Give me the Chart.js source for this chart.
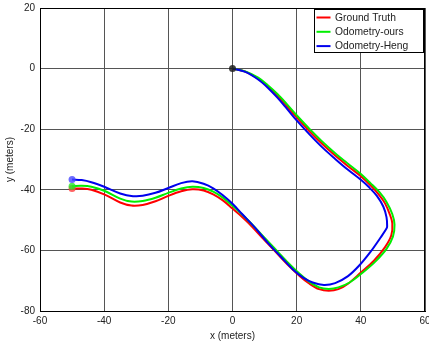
<!DOCTYPE html>
<html>
<head>
<meta charset="utf-8">
<script src="https://cdn.jsdelivr.net/npm/chart.js@4.4.0/dist/chart.umd.min.js"></script>
<style>
  body { margin: 0; background: #fff; }
  canvas { display: block; }
</style>
</head>
<body>
<canvas id="chart" width="429" height="344"></canvas>
<script>
// Trajectory data (meters)
const truthX = [0, 4, 8, 11, 14, 17, 20, 24, 28, 32, 36, 40, 43, 45.5, 47.5, 49, 49.8, 49.5, 47.5, 44, 40, 36, 33, 30, 27, 24, 21, 17, 13, 9, 5, 2, 0, -3, -6, -9, -12.5, -16, -20, -24, -28, -31.5, -35, -40, -44, -47, -50];
const truthY = [0, -1, -3.3, -5.9, -9, -12.5, -16.1, -20.7, -24.9, -28.7, -32.2, -35.5, -38.5, -41.4, -44.4, -48, -51, -55, -59, -63.5, -67.3, -71, -72.8, -73.3, -72.8, -71, -68.5, -64.5, -60, -55.5, -51, -48, -46.2, -43.5, -41.5, -40.2, -39.8, -40.5, -42, -43.8, -45, -45.2, -44.2, -41.5, -40, -39.6, -39.6];

const oursX = [0, 4, 8, 11, 14, 17, 20, 24, 28, 32, 36, 40, 43, 45.8, 48, 49.8, 50.5, 50, 48, 44.5, 40.5, 36.5, 33, 30, 27, 24, 21, 17, 13, 9, 5, 2, 0, -3, -6, -9, -12.5, -16, -20, -24, -28, -31.5, -35, -40, -44, -47, -50];
const oursY = [0, -0.9, -3, -5.5, -8.4, -11.8, -15.4, -19.9, -24.1, -27.9, -31.4, -34.8, -37.8, -40.8, -44, -48, -51.5, -55.5, -59.5, -63.7, -67.4, -70.6, -72.2, -72.7, -72.2, -70.4, -67.8, -63.7, -59.2, -54.7, -50.2, -47.2, -45.3, -42.6, -40.6, -39.4, -39, -39.6, -41, -42.6, -43.7, -43.9, -42.9, -40.3, -39, -38.7, -38.8];

const hengX = [0, 4, 8, 11, 14, 17, 20, 24, 28, 32, 36, 40, 42.5, 45, 47, 48, 48.2, 48, 46, 43, 39.5, 36, 32, 28.5, 25, 22, 19, 15, 11, 7, 3, 0, -3, -6, -9, -12.5, -16, -20, -24, -28, -31, -35, -40, -44, -47, -50];
const hengY = [0, -1.1, -3.6, -6.3, -9.6, -13.3, -17.1, -21.7, -26, -29.8, -33.4, -36.7, -39.1, -42, -45.5, -49, -52, -52.8, -56, -60.5, -65, -68.5, -70.8, -71.4, -70.6, -69, -66.5, -62, -57.5, -52.5, -48, -44.6, -41.8, -39.5, -38, -37.2, -37.8, -39.4, -41, -42, -42.1, -41.2, -39, -37.5, -36.8, -36.6];

const seriesLabels = ['Ground Truth', 'Odometry-ours', 'Odometry-Heng'];
const seriesColors = ['#ff0000', '#00ee00', '#0000ee'];
const endColors = ['rgba(255,60,60,0.8)', 'rgba(40,230,40,0.8)', 'rgba(70,70,255,0.8)'];

const xTicks = [-60, -40, -20, 0, 20, 40, 60];
const yTicks = [-80, -60, -40, -20, 0, 20];

const FONT = '"Liberation Sans", Arial, Helvetica, sans-serif';

function zip(xs, ys) {
    return xs.map((x, i) => ({ x: x, y: ys[i] }));
}

function trajectory(i, xs, ys, order) {
    const last = xs.length - 1;
    return {
        label: seriesLabels[i],
        data: zip(xs, ys),
        showLine: true,
        borderColor: seriesColors[i],
        borderWidth: 2,
        tension: 0.35,
        fill: false,
        order: order,
        pointRadius: ctx => ctx.dataIndex === last ? 3.5 : 0,
        pointBackgroundColor: endColors[i],
        pointBorderWidth: 0
    };
}

// Box around the plot + legend inside the top-right corner
const framePlugin = {
    id: 'frame',
    beforeDraw(chart) {
        const c = chart.ctx;
        c.save();
        c.fillStyle = '#fff';
        c.fillRect(0, 0, chart.width, chart.height);
        c.restore();
    },
    afterDraw(chart) {
        const c = chart.ctx;
        const a = chart.chartArea;
        c.save();
        c.strokeStyle = '#000';
        c.lineWidth = 1;
        c.strokeRect(Math.round(a.left) + 0.5, Math.round(a.top) + 0.5,
                     Math.round(a.right - a.left) - 1, Math.round(a.bottom - a.top));

        // legend
        const bx = 314.5, by = 9.5, bw = 109, bh = 43;
        c.fillStyle = '#fff';
        c.fillRect(bx, by, bw, bh);
        c.strokeStyle = '#000';
        c.strokeRect(bx, by, bw, bh);
        c.font = '10.3px ' + FONT;
        c.textBaseline = 'middle';
        c.fillStyle = '#222';
        seriesLabels.forEach((lbl, i) => {
            const y = by + 8 + i * 14.3;
            c.strokeStyle = seriesColors[i];
            c.lineWidth = 2;
            c.beginPath();
            c.moveTo(bx + 2, y);
            c.lineTo(bx + 16, y);
            c.stroke();
            c.fillText(lbl, bx + 20.5, y + 0.5);
        });
        c.restore();
    }
};

new Chart(document.getElementById('chart'), {
    type: 'scatter',
    data: {
        datasets: [
            trajectory(0, truthX, truthY, 3),
            trajectory(1, oursX, oursY, 2),
            trajectory(2, hengX, hengY, 1),
            {
                label: 'start',
                data: [{ x: 0, y: 0 }],
                pointRadius: 3.5,
                pointBackgroundColor: 'rgba(30,30,30,0.85)',
                pointBorderWidth: 0,
                order: 0
            }
        ]
    },
    options: {
        responsive: false,
        animation: false,
        layout: { padding: { top: 8, right: 4, left: 0, bottom: 0 } },
        plugins: {
            legend: { display: false },
            tooltip: { enabled: false }
        },
        scales: {
            x: {
                type: 'linear',
                min: -60,
                max: 60,
                afterBuildTicks: s => { s.ticks = xTicks.map(v => ({ value: v })); },
                afterFit: s => { s.height = 33; s.paddingLeft = 0; s.paddingRight = 0; },
                grid: { color: '#555', lineWidth: 1, drawTicks: false },
                border: { color: '#000' },
                ticks: { color: '#222', padding: 4, font: { family: FONT, size: 10 } },
                title: {
                    display: true,
                    text: 'x (meters)',
                    color: '#222',
                    padding: { top: 0, bottom: 2 },
                    font: { family: FONT, size: 10 }
                }
            },
            y: {
                type: 'linear',
                min: -80,
                max: 20,
                afterBuildTicks: s => { s.ticks = yTicks.map(v => ({ value: v })); },
                afterFit: s => { s.width = 40; s.paddingTop = 0; s.paddingBottom = 0; },
                grid: { color: '#555', lineWidth: 1, drawTicks: false },
                border: { color: '#000' },
                ticks: { color: '#222', padding: 5, font: { family: FONT, size: 10 } },
                title: {
                    display: true,
                    text: 'y (meters)',
                    color: '#222',
                    padding: { top: 4, bottom: 0 },
                    font: { family: FONT, size: 10 }
                }
            }
        }
    },
    plugins: [framePlugin]
});
</script>
</body>
</html>
